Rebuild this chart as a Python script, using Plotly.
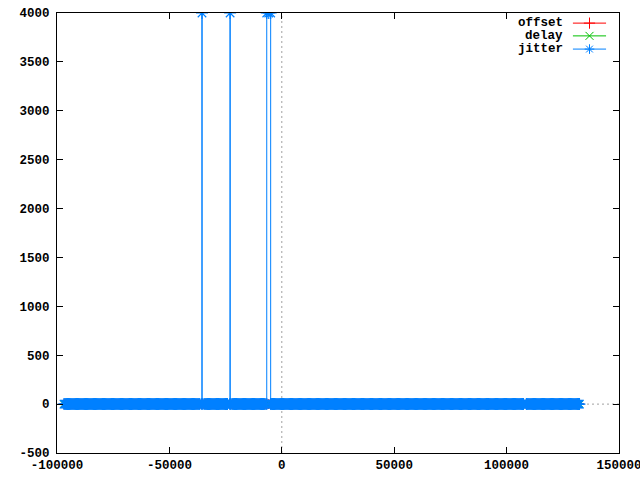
import numpy as np
import plotly.graph_objects as go

# ---- data ----
sample_step = 400  # spacing of the dense zero-valued samples
zero_runs = [(-96900, -36400), (-34600, -23900), (-22200, -7300), (-4500, 107500), (108800, 132700)]
spike_x = [[-35500, -35500, -35500],
           [-23000, -23000, -23000],
           [-6700, -6700, -5800, -4950, -4950]]
jitter_spike_y = [[0, 4000, 0],
                  [0, 4000, 0],
                  [0, 4000, 4000, 4000, 0]]
x_ticks = [-100000, -50000, 0, 50000, 100000, 150000]
x_labels = ["-100000", "-50000", "0", "50000", "100000", "150000"]
y_ticks = [-500, 0, 500, 1000, 1500, 2000, 2500, 3000, 3500, 4000]
y_labels = ["-500", "0", "500", "1000", "1500", "2000", "2500", "3000", "3500", "4000"]
series_names = ["offset", "delay", "jitter"]
series_colors = ["#ff0000", "#00c000", "#0080ff"]
series_symbols = ["cross-thin-open", "x-thin-open", "asterisk-open"]

# assemble samples in time order
xs, jit = [], []
for i, (a, b) in enumerate(zero_runs):
    run = list(np.arange(a, b + 1, sample_step))
    xs += run
    jit += [0] * len(run)
    if i < len(spike_x):
        xs += spike_x[i]
        jit += jitter_spike_y[i]
offs = [0] * len(xs)
dly = [0] * len(xs)
values = [offs, dly, jit]
msizes = [7, 7, 10]

FONT = dict(family="Liberation Mono", size=12.5, color="black", weight="bold")

fig = go.Figure()
for name, col, sym, ys, ms in zip(series_names, series_colors, series_symbols, values, msizes):
    fig.add_trace(go.Scatter(
        x=xs, y=ys, mode="lines+markers", name=name,
        line=dict(color=col, width=1),
        marker=dict(symbol=sym, size=ms, color=col, line=dict(color=col, width=1.2)),
        showlegend=False, hoverinfo="skip"))

# gnuplot-style key (text left of sample)
key_y = [0.977, 0.948, 0.918]
for name, col, sym, ky in zip(series_names, series_colors, series_symbols, key_y):
    fig.add_trace(go.Scatter(
        x=[0.918, 0.977], y=[ky, ky], xaxis="x2", yaxis="y2", mode="lines",
        line=dict(color=col, width=1), showlegend=False, hoverinfo="skip"))
    fig.add_trace(go.Scatter(
        x=[0.9475], y=[ky], xaxis="x2", yaxis="y2", mode="markers",
        marker=dict(symbol=sym, size=8, color=col, line=dict(color=col, width=1)),
        showlegend=False, hoverinfo="skip"))
    fig.add_annotation(x=0.904, y=ky, xref="paper", yref="paper", text=name,
                       showarrow=False, xanchor="right", yanchor="middle", font=FONT)

# dotted zero axes
fig.add_shape(type="line", xref="x", yref="paper", x0=0, x1=0, y0=0, y1=1,
              line=dict(color="#a0a0a0", width=1, dash="2px,3px"), layer="below")
fig.add_shape(type="line", xref="paper", yref="y", x0=0, x1=1, y0=0, y1=0,
              line=dict(color="#a0a0a0", width=1, dash="2px,3px"), layer="below")

axis_common = dict(showgrid=False, zeroline=False, showline=True, linecolor="black",
                   linewidth=1, mirror="ticks", ticks="inside", ticklen=6,
                   tickcolor="black", tickfont=FONT, automargin=False,
                   ticklabeloverflow="allow")
fig.update_layout(
    width=640, height=480,
    margin=dict(l=57, r=21, t=13, b=27, autoexpand=False),
    paper_bgcolor="white", plot_bgcolor="white",
    xaxis=dict(range=[-100000, 150000], tickvals=x_ticks, ticktext=x_labels, **axis_common),
    yaxis=dict(range=[-500, 4000], tickvals=y_ticks, ticktext=y_labels,
               ticklabelstandoff=4, **axis_common),
    xaxis2=dict(overlaying="x", range=[0, 1], visible=False, fixedrange=True),
    yaxis2=dict(overlaying="y", range=[0, 1], visible=False, fixedrange=True),
    showlegend=False,
)
fig.write_html("out.html", config={"displayModeBar": False},
               post_script="document.body.style.margin='0';document.body.style.overflow='hidden';")
